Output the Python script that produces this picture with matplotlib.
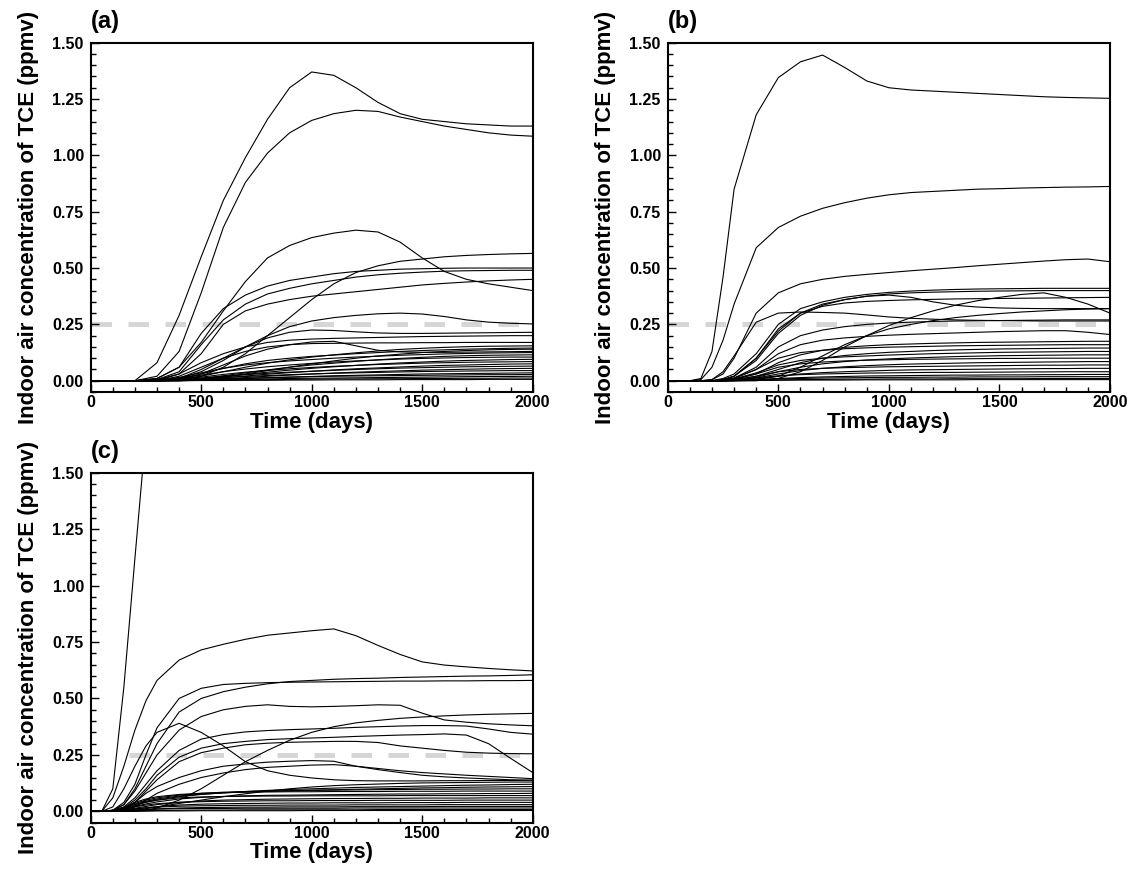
import numpy as np
import matplotlib
matplotlib.use("Agg")
import matplotlib.pyplot as plt
from matplotlib.ticker import MultipleLocator, FormatStrFormatter

plt.rcParams["font.family"] = ["Liberation Sans", "DejaVu Sans"]
plt.rcParams["font.weight"] = "bold"

nan = np.nan
THRESHOLD = 0.25

# ---- panel (a) ----
time_a = [0, 100, 200, 300, 400, 500, 600, 700, 800, 900, 1000,
          1100, 1200, 1300, 1400, 1500, 1600, 1700, 1800, 1900, 2000]
curves_a = [
    [0, 0, 0, 0.08, 0.29, 0.55, 0.80, 0.99, 1.16, 1.30, 1.37, 1.355, 1.30, 1.235, 1.185, 1.16, 1.15, 1.14, 1.135, 1.13, 1.13],
    [0, 0, 0, 0.02, 0.13, 0.39, 0.68, 0.88, 1.01, 1.10, 1.155, 1.185, 1.20, 1.195, 1.17, 1.15, 1.13, 1.115, 1.10, 1.09, 1.085],
    [0, 0, 0, 0.01, 0.06, 0.17, 0.31, 0.44, 0.545, 0.60, 0.635, 0.655, 0.668, 0.66, 0.615, 0.545, 0.485, 0.45, 0.43, 0.415, 0.40],
    [0, 0, 0, 0.01, 0.06, 0.21, 0.32, 0.38, 0.42, 0.445, 0.46, 0.475, 0.485, 0.49, 0.495, 0.497, 0.499, 0.50, 0.50, 0.50, 0.50],
    [0, 0, 0, 0.005, 0.04, 0.16, 0.27, 0.34, 0.385, 0.41, 0.43, 0.445, 0.46, 0.47, 0.477, 0.482, 0.486, 0.488, 0.489, 0.49, 0.49],
    [0, 0, 0, 0, 0.03, 0.12, 0.25, 0.31, 0.34, 0.36, 0.375, 0.385, 0.395, 0.405, 0.415, 0.425, 0.432, 0.438, 0.443, 0.447, 0.45],
    [0, 0, 0, 0, 0.005, 0.02, 0.06, 0.12, 0.20, 0.28, 0.36, 0.43, 0.48, 0.51, 0.53, 0.54, 0.55, 0.556, 0.56, 0.563, 0.565],
    [0, 0, 0, 0, 0.01, 0.04, 0.09, 0.15, 0.20, 0.24, 0.265, 0.28, 0.29, 0.297, 0.30, 0.296, 0.285, 0.27, 0.26, 0.255, 0.252],
    [0, 0, 0, 0, 0.01, 0.05, 0.10, 0.15, 0.19, 0.215, 0.225, 0.223, 0.217, 0.212, 0.21, 0.21, 0.211, 0.212, 0.213, 0.214, 0.215],
    [0, 0, 0, 0, 0.005, 0.03, 0.07, 0.11, 0.14, 0.16, 0.172, 0.175, 0.155, 0.135, 0.128, 0.126, 0.126, 0.127, 0.128, 0.129, 0.13],
    [0, 0, 0, 0.005, 0.03, 0.08, 0.12, 0.15, 0.17, 0.18, 0.185, 0.188, 0.19, 0.192, 0.194, 0.196, 0.197, 0.198, 0.199, 0.2, 0.2],
    [0, 0, 0, 0, 0.02, 0.06, 0.10, 0.13, 0.15, 0.16, 0.165, 0.166, 0.167, 0.168, 0.168, 0.169, 0.169, 0.17, 0.17, 0.17, 0.17],
    [0, 0, 0, 0, 0.005, 0.02, 0.04, 0.06, 0.078, 0.093, 0.105, 0.115, 0.124, 0.132, 0.139, 0.144, 0.148, 0.151, 0.153, 0.154, 0.155],
    [0, 0, 0, 0.002, 0.01, 0.03, 0.055, 0.075, 0.09, 0.1, 0.108, 0.114, 0.12, 0.125, 0.13, 0.134, 0.137, 0.14, 0.142, 0.144, 0.145],
    [0, 0, 0, 0, 0, 0.005, 0.015, 0.03, 0.045, 0.06, 0.075, 0.088, 0.1, 0.11, 0.118, 0.125, 0.13, 0.134, 0.137, 0.139, 0.14],
    [0, 0, 0, 0.003, 0.015, 0.035, 0.055, 0.07, 0.08, 0.088, 0.094, 0.1, 0.105, 0.109, 0.113, 0.116, 0.119, 0.121, 0.123, 0.124, 0.125],
    [0, 0, 0, 0, 0.003, 0.01, 0.022, 0.035, 0.048, 0.06, 0.07, 0.078, 0.086, 0.093, 0.099, 0.104, 0.108, 0.111, 0.113, 0.114, 0.115],
    [0, 0, 0, 0.002, 0.01, 0.025, 0.04, 0.052, 0.062, 0.07, 0.077, 0.083, 0.088, 0.092, 0.096, 0.099, 0.101, 0.103, 0.104, 0.105, 0.105],
    [0, 0, 0, 0, 0.002, 0.008, 0.018, 0.028, 0.038, 0.047, 0.055, 0.062, 0.068, 0.074, 0.079, 0.083, 0.087, 0.09, 0.092, 0.094, 0.095],
    [0, 0, 0, 0.001, 0.006, 0.016, 0.028, 0.038, 0.046, 0.053, 0.059, 0.064, 0.068, 0.072, 0.075, 0.078, 0.08, 0.082, 0.083, 0.084, 0.085],
    [0, 0, 0, 0, 0.002, 0.006, 0.013, 0.021, 0.029, 0.036, 0.042, 0.048, 0.053, 0.057, 0.061, 0.065, 0.068, 0.07, 0.072, 0.074, 0.075],
    [0, 0, 0, 0.001, 0.005, 0.012, 0.02, 0.027, 0.033, 0.038, 0.042, 0.046, 0.05, 0.053, 0.056, 0.058, 0.06, 0.062, 0.063, 0.064, 0.065],
    [0, 0, 0, 0, 0.001, 0.004, 0.009, 0.014, 0.02, 0.025, 0.03, 0.034, 0.038, 0.041, 0.044, 0.047, 0.049, 0.051, 0.053, 0.054, 0.055],
    [0, 0, 0, 0.001, 0.004, 0.009, 0.014, 0.019, 0.023, 0.027, 0.03, 0.033, 0.035, 0.037, 0.039, 0.041, 0.042, 0.043, 0.044, 0.045, 0.045],
    [0, 0, 0, 0, 0.001, 0.003, 0.006, 0.009, 0.013, 0.016, 0.019, 0.022, 0.024, 0.026, 0.028, 0.03, 0.031, 0.032, 0.033, 0.034, 0.035],
    [0, 0, 0, 0, 0.002, 0.005, 0.008, 0.011, 0.014, 0.016, 0.018, 0.02, 0.021, 0.022, 0.023, 0.024, 0.025, 0.026, 0.027, 0.027, 0.028],
    [0, 0, 0, 0, 0, 0.002, 0.004, 0.006, 0.008, 0.01, 0.011, 0.012, 0.013, 0.014, 0.015, 0.016, 0.017, 0.018, 0.019, 0.019, 0.02],
    [0, 0, 0, 0, 0.001, 0.002, 0.003, 0.004, 0.005, 0.006, 0.007, 0.008, 0.008, 0.009, 0.009, 0.01, 0.01, 0.011, 0.011, 0.012, 0.012],
    [0, 0, 0, 0, 0, 0.001, 0.001, 0.002, 0.002, 0.003, 0.003, 0.004, 0.004, 0.004, 0.005, 0.005, 0.005, 0.005, 0.006, 0.006, 0.006],
]

# ---- panel (b) ----
time_b = [0, 100, 150, 200, 250, 300, 400, 500, 600, 700, 800, 900,
          1000, 1100, 1200, 1300, 1400, 1500, 1600, 1700, 1800, 1900, 2000]
curves_b = [
    [0, 0, 0.01, 0.13, 0.46, 0.85, 1.18, 1.345, 1.415, 1.445, 1.39, 1.33, 1.30, 1.29, 1.285, 1.28, 1.275, 1.27, 1.265, 1.26, 1.257, 1.255, 1.253],
    [0, 0, 0.005, 0.06, 0.18, 0.34, 0.59, 0.68, 0.73, 0.765, 0.79, 0.81, 0.825, 0.835, 0.84, 0.845, 0.85, 0.852, 0.855, 0.857, 0.859, 0.86, 0.862],
    [0, 0, 0, 0.005, 0.03, 0.1, 0.3, 0.39, 0.43, 0.45, 0.463, 0.472, 0.48, 0.488, 0.495, 0.502, 0.51, 0.517, 0.524, 0.531, 0.537, 0.54, 0.528],
    [0, 0, 0, 0.005, 0.04, 0.11, 0.26, 0.30, 0.305, 0.303, 0.30, 0.292, 0.283, 0.277, 0.273, 0.27, 0.268, 0.267, 0.266, 0.265, 0.265, 0.265, 0.265],
    [0, 0, 0, 0, 0.01, 0.03, 0.12, 0.25, 0.32, 0.35, 0.37, 0.383, 0.392, 0.398, 0.402, 0.405, 0.407, 0.408, 0.409, 0.41, 0.41, 0.41, 0.41],
    [0, 0, 0, 0, 0.005, 0.02, 0.09, 0.21, 0.29, 0.335, 0.36, 0.375, 0.385, 0.39, 0.393, 0.395, 0.397, 0.398, 0.399, 0.4, 0.4, 0.4, 0.4],
    [0, 0, 0, 0, 0.005, 0.02, 0.1, 0.22, 0.3, 0.34, 0.36, 0.375, 0.38, 0.37, 0.35, 0.335, 0.327, 0.323, 0.321, 0.32, 0.32, 0.32, 0.32],
    [0, 0, 0, 0, 0, 0, 0, 0.01, 0.04, 0.09, 0.15, 0.2, 0.245, 0.28, 0.31, 0.335, 0.355, 0.37, 0.383, 0.39, 0.37, 0.34, 0.30],
    [0, 0, 0, 0, 0, 0, 0.005, 0.02, 0.06, 0.11, 0.16, 0.2, 0.23, 0.25, 0.267, 0.28, 0.29, 0.298, 0.305, 0.31, 0.315, 0.318, 0.32],
    [0, 0, 0, 0, 0.005, 0.02, 0.1, 0.23, 0.3, 0.33, 0.345, 0.352, 0.356, 0.359, 0.361, 0.363, 0.364, 0.365, 0.366, 0.367, 0.368, 0.369, 0.37],
    [0, 0, 0, 0, 0.003, 0.012, 0.06, 0.15, 0.2, 0.225, 0.24, 0.25, 0.256, 0.26, 0.263, 0.265, 0.266, 0.267, 0.268, 0.269, 0.27, 0.27, 0.27],
    [0, 0, 0, 0, 0.002, 0.01, 0.05, 0.12, 0.16, 0.18, 0.19, 0.197, 0.202, 0.206, 0.209, 0.212, 0.215, 0.218, 0.22, 0.222, 0.222, 0.215, 0.205],
    [0, 0, 0, 0, 0, 0.005, 0.03, 0.08, 0.115, 0.135, 0.148, 0.155, 0.16, 0.163, 0.166, 0.168, 0.17, 0.171, 0.172, 0.173, 0.174, 0.175, 0.175],
    [0, 0, 0, 0, 0.003, 0.012, 0.05, 0.1, 0.125, 0.135, 0.142, 0.146, 0.149, 0.151, 0.153, 0.155, 0.156, 0.157, 0.158, 0.159, 0.16, 0.16, 0.16],
    [0, 0, 0, 0, 0, 0.003, 0.02, 0.05, 0.08, 0.1, 0.112, 0.12, 0.126, 0.13, 0.134, 0.137, 0.139, 0.141, 0.142, 0.143, 0.144, 0.145, 0.145],
    [0, 0, 0, 0, 0.002, 0.008, 0.035, 0.07, 0.09, 0.1, 0.106, 0.11, 0.114, 0.117, 0.12, 0.122, 0.124, 0.126, 0.127, 0.128, 0.129, 0.13, 0.13],
    [0, 0, 0, 0, 0, 0.002, 0.015, 0.04, 0.06, 0.075, 0.085, 0.092, 0.097, 0.101, 0.104, 0.107, 0.109, 0.111, 0.112, 0.113, 0.114, 0.115, 0.115],
    [0, 0, 0, 0, 0.002, 0.007, 0.03, 0.06, 0.075, 0.083, 0.088, 0.091, 0.093, 0.095, 0.096, 0.097, 0.098, 0.099, 0.099, 0.1, 0.1, 0.1, 0.1],
    [0, 0, 0, 0, 0, 0.002, 0.012, 0.03, 0.045, 0.055, 0.062, 0.067, 0.071, 0.074, 0.076, 0.078, 0.08, 0.081, 0.082, 0.083, 0.084, 0.085, 0.085],
    [0, 0, 0, 0, 0.001, 0.004, 0.02, 0.04, 0.05, 0.055, 0.058, 0.06, 0.062, 0.063, 0.064, 0.065, 0.066, 0.067, 0.068, 0.069, 0.069, 0.07, 0.07],
    [0, 0, 0, 0, 0, 0.002, 0.008, 0.02, 0.03, 0.036, 0.04, 0.043, 0.046, 0.048, 0.049, 0.05, 0.051, 0.052, 0.053, 0.054, 0.054, 0.055, 0.055],
    [0, 0, 0, 0, 0.001, 0.003, 0.012, 0.022, 0.027, 0.03, 0.032, 0.034, 0.035, 0.036, 0.037, 0.037, 0.038, 0.038, 0.039, 0.039, 0.04, 0.04, 0.04],
    [0, 0, 0, 0, 0, 0.001, 0.005, 0.01, 0.014, 0.017, 0.019, 0.021, 0.022, 0.023, 0.024, 0.025, 0.025, 0.026, 0.026, 0.027, 0.027, 0.028, 0.028],
    [0, 0, 0, 0, 0, 0.001, 0.004, 0.008, 0.01, 0.012, 0.013, 0.014, 0.015, 0.015, 0.016, 0.016, 0.017, 0.017, 0.017, 0.018, 0.018, 0.018, 0.018],
    [0, 0, 0, 0, 0, 0, 0.002, 0.004, 0.005, 0.006, 0.007, 0.007, 0.008, 0.008, 0.008, 0.009, 0.009, 0.009, 0.009, 0.01, 0.01, 0.01, 0.01],
    [0, 0, 0, 0, 0, 0, 0.001, 0.002, 0.003, 0.003, 0.003, 0.004, 0.004, 0.004, 0.004, 0.004, 0.005, 0.005, 0.005, 0.005, 0.005, 0.005, 0.005],
]

# ---- panel (c) ----
time_c = [0, 50, 100, 150, 200, 250, 300, 400, 500, 600, 700, 800, 900,
          1000, 1100, 1200, 1300, 1400, 1500, 1600, 1700, 1800, 1900, 2000]
curves_c = [
    [0, 0, 0.1, 0.55, 1.12, 1.68, nan, nan, nan, nan, nan, nan, nan, nan, nan, nan, nan, nan, nan, nan, nan, nan, nan, nan],
    [0, 0, 0.06, 0.2, 0.36, 0.49, 0.58, 0.67, 0.715, 0.74, 0.762, 0.78, 0.79, 0.80, 0.808, 0.778, 0.735, 0.695, 0.662, 0.648, 0.64, 0.633, 0.627, 0.622],
    [0, 0, 0.005, 0.04, 0.12, 0.25, 0.37, 0.5, 0.545, 0.562, 0.567, 0.57, 0.572, 0.573, 0.574, 0.575, 0.576, 0.577, 0.577, 0.578, 0.578, 0.579, 0.579, 0.58],
    [0, 0, 0.005, 0.03, 0.1, 0.2, 0.3, 0.44, 0.5, 0.53, 0.55, 0.565, 0.575, 0.58, 0.585, 0.588, 0.59, 0.593, 0.595, 0.597, 0.599, 0.6, 0.602, 0.605],
    [0, 0, 0.005, 0.03, 0.09, 0.17, 0.25, 0.36, 0.42, 0.45, 0.465, 0.472, 0.465, 0.463, 0.465, 0.468, 0.472, 0.47, 0.435, 0.405, 0.395, 0.388, 0.383, 0.379],
    [0, 0, 0.02, 0.1, 0.2, 0.29, 0.35, 0.39, 0.35, 0.29, 0.22, 0.18, 0.16, 0.148, 0.14, 0.136, 0.135, 0.135, 0.135, 0.136, 0.136, 0.137, 0.137, 0.138],
    [0, 0, 0, 0, 0, 0.005, 0.015, 0.05, 0.1, 0.16, 0.22, 0.27, 0.315, 0.35, 0.375, 0.392, 0.403, 0.412, 0.418, 0.423, 0.427, 0.43, 0.432, 0.434],
    [0, 0, 0.005, 0.02, 0.06, 0.12, 0.18, 0.27, 0.32, 0.34, 0.352, 0.358, 0.362, 0.365, 0.368, 0.372, 0.375, 0.378, 0.38, 0.38, 0.378, 0.365, 0.35, 0.342],
    [0, 0, 0.003, 0.015, 0.05, 0.1, 0.16, 0.24, 0.28, 0.3, 0.31, 0.318, 0.322, 0.325, 0.328, 0.332, 0.335, 0.338, 0.34, 0.343, 0.338, 0.30, 0.235, 0.172],
    [0, 0, 0.002, 0.01, 0.04, 0.09, 0.14, 0.22, 0.26, 0.28, 0.295, 0.302, 0.306, 0.308, 0.31, 0.31, 0.305, 0.29, 0.28, 0.27, 0.262, 0.258, 0.256, 0.255],
    [0, 0, 0, 0.01, 0.04, 0.08, 0.11, 0.15, 0.18, 0.2, 0.21, 0.218, 0.222, 0.225, 0.222, 0.2, 0.185, 0.172, 0.16, 0.153, 0.148, 0.144, 0.14, 0.138],
    [0, 0, 0, 0.005, 0.02, 0.05, 0.08, 0.12, 0.15, 0.17, 0.185, 0.195, 0.2, 0.205, 0.207, 0.2, 0.19, 0.18, 0.172, 0.166, 0.16, 0.155, 0.15, 0.145],
    [0, 0, 0, 0.002, 0.006, 0.012, 0.02, 0.035, 0.05, 0.065, 0.078, 0.09, 0.1, 0.108, 0.114, 0.118, 0.121, 0.124, 0.126, 0.127, 0.128, 0.129, 0.13, 0.13],
    [0, 0, 0.002, 0.01, 0.025, 0.04, 0.05, 0.065, 0.075, 0.082, 0.088, 0.093, 0.097, 0.1, 0.103, 0.106, 0.108, 0.11, 0.112, 0.114, 0.116, 0.117, 0.119, 0.12],
    [0, 0, 0.003, 0.015, 0.035, 0.05, 0.06, 0.072, 0.08, 0.085, 0.088, 0.09, 0.092, 0.094, 0.096, 0.098, 0.1, 0.102, 0.104, 0.105, 0.107, 0.108, 0.109, 0.11],
    [0, 0, 0.002, 0.012, 0.03, 0.045, 0.055, 0.068, 0.076, 0.082, 0.086, 0.089, 0.091, 0.093, 0.094, 0.095, 0.096, 0.097, 0.098, 0.098, 0.099, 0.099, 0.1, 0.1],
    [0, 0, 0.004, 0.018, 0.04, 0.055, 0.065, 0.075, 0.08, 0.083, 0.085, 0.086, 0.087, 0.087, 0.088, 0.088, 0.088, 0.089, 0.089, 0.089, 0.09, 0.09, 0.09, 0.09],
    [0, 0, 0.002, 0.01, 0.022, 0.033, 0.042, 0.055, 0.062, 0.066, 0.069, 0.071, 0.072, 0.073, 0.074, 0.075, 0.076, 0.077, 0.077, 0.078, 0.078, 0.079, 0.079, 0.08],
    [0, 0, 0.003, 0.014, 0.03, 0.042, 0.05, 0.06, 0.064, 0.066, 0.067, 0.068, 0.068, 0.069, 0.069, 0.069, 0.069, 0.07, 0.07, 0.07, 0.07, 0.07, 0.07, 0.07],
    [0, 0, 0.001, 0.006, 0.014, 0.022, 0.03, 0.04, 0.046, 0.05, 0.052, 0.054, 0.055, 0.056, 0.057, 0.057, 0.058, 0.058, 0.059, 0.059, 0.059, 0.06, 0.06, 0.06],
    [0, 0, 0.002, 0.01, 0.02, 0.028, 0.034, 0.04, 0.043, 0.045, 0.046, 0.047, 0.047, 0.048, 0.048, 0.048, 0.049, 0.049, 0.049, 0.049, 0.05, 0.05, 0.05, 0.05],
    [0, 0, 0.001, 0.004, 0.01, 0.016, 0.021, 0.028, 0.032, 0.034, 0.035, 0.036, 0.037, 0.037, 0.038, 0.038, 0.038, 0.039, 0.039, 0.039, 0.04, 0.04, 0.04, 0.04],
    [0, 0, 0.001, 0.005, 0.011, 0.016, 0.019, 0.023, 0.025, 0.026, 0.027, 0.027, 0.028, 0.028, 0.028, 0.029, 0.029, 0.029, 0.029, 0.03, 0.03, 0.03, 0.03, 0.03],
    [0, 0, 0, 0.002, 0.005, 0.008, 0.011, 0.015, 0.017, 0.018, 0.019, 0.019, 0.02, 0.02, 0.02, 0.021, 0.021, 0.021, 0.021, 0.022, 0.022, 0.022, 0.022, 0.022],
    [0, 0, 0.001, 0.003, 0.006, 0.008, 0.01, 0.012, 0.013, 0.013, 0.014, 0.014, 0.014, 0.014, 0.014, 0.015, 0.015, 0.015, 0.015, 0.015, 0.015, 0.015, 0.015, 0.015],
    [0, 0, 0, 0.001, 0.002, 0.003, 0.004, 0.005, 0.006, 0.006, 0.007, 0.007, 0.007, 0.007, 0.007, 0.007, 0.008, 0.008, 0.008, 0.008, 0.008, 0.008, 0.008, 0.008],
    [0, 0, 0, 0, 0.001, 0.001, 0.002, 0.002, 0.003, 0.003, 0.003, 0.003, 0.003, 0.004, 0.004, 0.004, 0.004, 0.004, 0.004, 0.004, 0.004, 0.004, 0.004, 0.004],
]

# dashed threshold line: start day per panel
dash_start = {"a": 0, "b": 0, "c": 175}


def style_axes(ax, label):
    ax.set_xlim(0, 2000)
    ax.set_ylim(-0.05, 1.5)
    ax.xaxis.set_major_locator(MultipleLocator(500))
    ax.xaxis.set_minor_locator(MultipleLocator(100))
    ax.yaxis.set_major_locator(MultipleLocator(0.25))
    ax.yaxis.set_minor_locator(MultipleLocator(0.05))
    ax.yaxis.set_major_formatter(FormatStrFormatter("%.2f"))
    ax.tick_params(which="both", direction="in", top=False, right=False,
                   labelsize=11.5, width=1.0)
    ax.tick_params(which="major", length=6)
    ax.tick_params(which="minor", length=3.5)
    ax.tick_params(axis="x", pad=2.5)
    ax.tick_params(axis="y", pad=5)
    for sp in ax.spines.values():
        sp.set_linewidth(1.5)
    ax.set_xlabel("Time (days)", fontsize=16, fontweight="bold")
    ax.set_ylabel("Indoor air concentration of TCE (ppmv)", fontsize=16, fontweight="bold")
    ax.xaxis.set_label_coords(0.5, -0.056)
    ax.yaxis.set_label_coords(-0.117, 0.5)
    ax.text(0.0, 1.027, label, transform=ax.transAxes, fontsize=17,
            fontweight="bold", ha="left", va="bottom")


def draw_panel(ax, times, curves, start, label):
    ax.plot([start, 2000], [THRESHOLD, THRESHOLD], color="#d6d6d6", lw=3.6,
            dashes=(4.1, 3.3), solid_capstyle="butt", zorder=1)
    for c in curves:
        ax.plot(times, c, color="black", lw=0.8, zorder=2)
    style_axes(ax, label)


fig = plt.figure(figsize=(11.31, 8.69), dpi=100)
ax_a = fig.add_axes([0.0802, 0.5489, 0.3908, 0.4020])
ax_b = fig.add_axes([0.5904, 0.5489, 0.3911, 0.4020])
ax_c = fig.add_axes([0.0802, 0.0533, 0.3908, 0.4028])

draw_panel(ax_a, time_a, curves_a, dash_start["a"], "(a)")
draw_panel(ax_b, time_b, curves_b, dash_start["b"], "(b)")
draw_panel(ax_c, time_c, curves_c, dash_start["c"], "(c)")

fig.savefig("out.png", dpi=100)
